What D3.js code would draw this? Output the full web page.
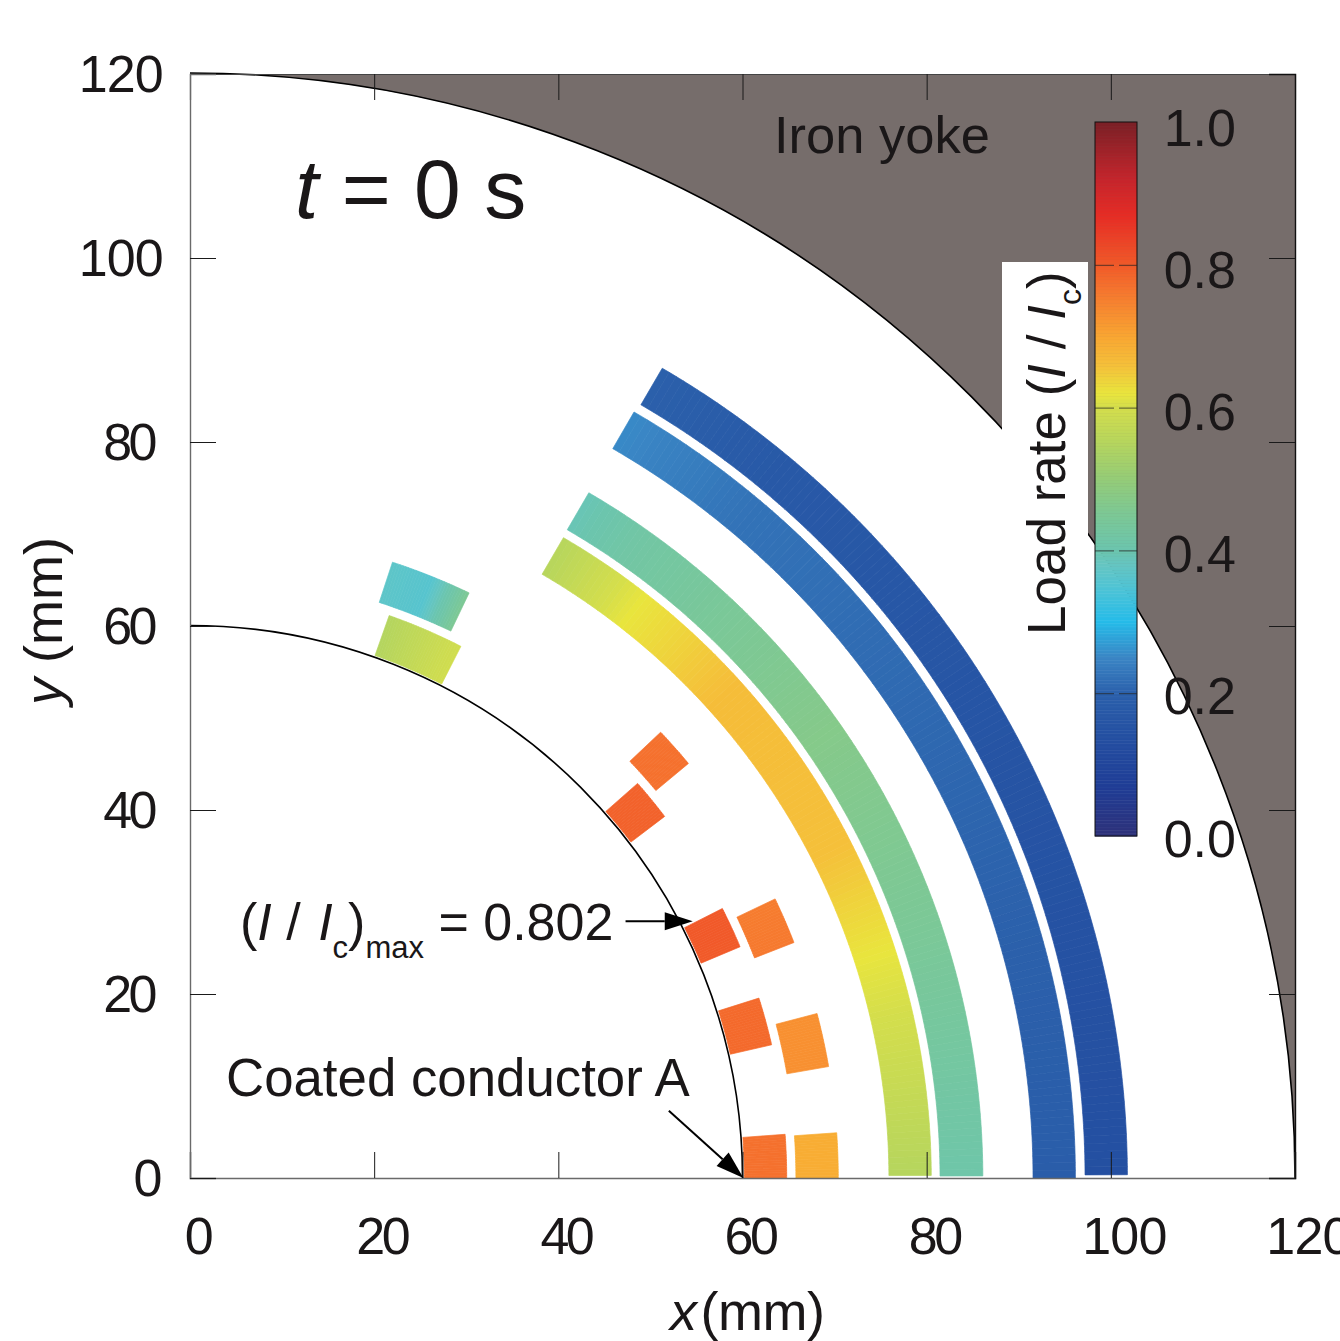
<!DOCTYPE html>
<html><head><meta charset="utf-8">
<script src="https://cdn.jsdelivr.net/npm/d3@7"></script>
<style>html,body{margin:0;padding:0;background:#fff;overflow:hidden}text{font-family:"Liberation Sans",Arial,sans-serif;fill:#1a1718}</style>
</head><body><svg id="c" width="1340" height="1341"></svg>
<script>
// axes
const axisTicks = [0,20,40,60,80,100,120];
const loadTicks = [0,0.2,0.4,0.6,0.8,1.0];
// colour map
const cmapValues = [0,.07,.15,.2,.25,.3,.35,.38,.4,.45,.5,.55,.6,.62,.66,.7,.76,.8,.87,.92,1];
const cmapColors = ["#2e3179","#1f3d96","#2552a3","#2b60ab","#3a85c4","#25bbe9","#50c4d4","#65c5c2","#6bc5ae","#7cc896","#94cc78","#b5d55e","#d4de4c","#e9e53d","#f5c03a","#f9a632","#f6792f","#f15a29","#e62c25","#c5252c","#7a2026"];
// coils: radii (mm), angular extent (deg from +x axis)
const coilInnerR = [75.9,81.45,91.55,97.2, 60.2,65.8, 60.2,65.8, 60.2,65.8, 60.2,65.8, 60.2,65.8];
const coilOuterR = [80.5,86.1,96.15,101.8, 64.8,70.4, 64.8,70.4, 64.8,70.4, 64.8,70.4, 64.8,70.4];
const coilStart  = [0.2,0.15,0,0.2, 0,0, 12.9,9.9, 22.8,21.3, 37.3,39.75, 63,64.5];
const coilEnd    = [59.75,59.8,59.9,59.75, 4.2,4.0, 17.55,14.7, 26.85,25.5, 41.4,43.45, 70.5,71.8];
// load rate read at angles along each coil
const coilLoadAngles = [
 [0,17,27,42,52,60],[0,20,35,45,55,60],[0,30,50,60],[0,30,50,60],
 [0,5],[0,5],[12,18],[9,15],[22,27],[21,26],[37,42],[39,44],[63,71],[64,66,68,72]];
const coilLoads = [
 [.55,.615,.66,.665,.62,.55],[.41,.45,.47,.45,.42,.39],[.19,.21,.225,.255],[.14,.16,.175,.2],
 [.77,.77],[.69,.69],[.78,.78],[.73,.73],[.80,.802],[.76,.755],[.79,.79],[.77,.77],[.595,.545],[.47,.41,.36,.37]];
// circles (mm)
const innerCircleR = 60, yokeR = 120;

const svg = d3.select("#c");
const x = d3.scaleLinear().domain([0,120]).range([190,1295]);
const y = d3.scaleLinear().domain([0,120]).range([1178,74]);
const rad = d => x(d)-x(0);
const cbY = d3.scaleLinear().domain([0,1]).range([836,122]);
const color = d3.scaleLinear().domain(cmapValues).range(cmapColors).clamp(true);
const cx = x(0), cy = y(0);

// yoke
const yp = d3.path();
yp.moveTo(x(0),y(120));
yp.arc(cx,cy,rad(yokeR),-Math.PI/2,0,false);
yp.lineTo(x(120),y(120));
yp.closePath();
svg.append("path").attr("d",yp.toString()).attr("fill","#766d6b");

// circle outlines
[innerCircleR,yokeR].forEach(r=>{
  const p=d3.path(); p.arc(cx,cy,rad(r),-Math.PI/2,0,false);
  svg.append("path").attr("d",p.toString()).attr("fill","none").attr("stroke","#000").attr("stroke-width",1.6);
});

// white label box
svg.append("rect").attr("x",1002).attr("y",262).attr("width",86).attr("height",380).attr("fill","#fff");

// coils
const arc = d3.arc();
const coilG = svg.append("g");
coilInnerR.forEach((ri,i)=>{
  const a0=coilStart[i],a1=coilEnd[i];
  const load=d3.scaleLinear().domain(coilLoadAngles[i]).range(coilLoads[i]);
  const step=(a1-a0)>20?0.5:0.25;
  const n=Math.ceil((a1-a0)/step);
  d3.range(n).forEach(k=>{
    const s=a0+(a1-a0)*k/n, e=a0+(a1-a0)*(k+1)/n;
    const c=color(load((s+e)/2));
    const toD=t=>(90-t)*Math.PI/180;
    coilG.append("path")
      .attr("transform",`translate(${cx},${cy})`)
      .attr("d",arc({innerRadius:rad(ri),outerRadius:rad(coilOuterR[i]),startAngle:toD(e),endAngle:toD(s)}))
      .attr("fill",c).attr("stroke",c).attr("stroke-width",0.7);
  });
});

// axes
const TL=26;
const gB=svg.append("g").attr("transform",`translate(0,${y(0)})`).call(d3.axisBottom(x).tickValues(axisTicks).tickSize(-TL).tickPadding(0).tickFormat(d3.format("d")));
const gT=svg.append("g").attr("transform",`translate(0,${y(120)})`).call(d3.axisTop(x).tickValues(axisTicks).tickSize(-TL).tickFormat(""));
const gL=svg.append("g").attr("transform",`translate(${x(0)},0)`).call(d3.axisLeft(y).tickValues(axisTicks).tickSize(-TL).tickFormat(d3.format("d")));
const gR=svg.append("g").attr("transform",`translate(${x(120)},0)`).call(d3.axisRight(y).tickValues(axisTicks).tickSize(-TL).tickFormat(""));
[gB,gT,gL,gR].forEach(g=>{
  g.selectAll("line").attr("stroke","#1a1a1a").attr("stroke-width",1);
  g.selectAll(".tick").filter(d=>d===120).select("line").remove();
});
gB.select(".domain").attr("stroke","#6a6a6a").attr("stroke-width",1.6);
gL.select(".domain").attr("stroke","#6a6a6a").attr("stroke-width",1.4);
gT.select(".domain").attr("stroke","#444").attr("stroke-width",1.2);
gR.select(".domain").attr("stroke","#111").attr("stroke-width",1.4);
gB.selectAll("text").attr("font-size",52).attr("font-family","Liberation Sans")
  .attr("letter-spacing",d=>d>=100?-0.8:-3.5)
  .attr("text-anchor","middle").attr("dy",0).attr("y",76)
  .attr("x",d=>d>=100?13:7).attr("fill","#1a1718");
gL.selectAll("text").attr("font-size",52).attr("font-family","Liberation Sans")
  .attr("letter-spacing",d=>d>=100?-0.8:-3.5)
  .attr("text-anchor","end").attr("dy","0.33em")
  .attr("x",d=>d>=100?-27:(d===0?-31:-36)).attr("fill","#1a1718");

// colour bar
const cb=svg.append("g");
const cbX0=1095,cbX1=1137;
d3.range(0,1,0.002).forEach(v=>{
  cb.append("rect").attr("x",cbX0).attr("width",cbX1-cbX0)
    .attr("y",cbY(v+0.002)).attr("height",cbY(v)-cbY(v+0.002)+0.5).attr("fill",color(v+0.001));
});
cb.append("rect").attr("x",cbX0).attr("y",cbY(1)).attr("width",cbX1-cbX0).attr("height",cbY(0)-cbY(1))
  .attr("fill","none").attr("stroke","#111").attr("stroke-width",1);
const gC=svg.append("g").attr("transform",`translate(${cbX1},0)`)
  .call(d3.axisRight(cbY).tickValues(loadTicks).tickSize(0).tickPadding(26).tickFormat(d3.format(".1f")));
gC.select(".domain").remove();
gC.selectAll("text").attr("font-size",52).attr("font-family","Liberation Sans")
  .attr("text-anchor","end").attr("x",99).attr("dy","0.33em").attr("y",d=>3+d*3).attr("fill","#1a1718");
gC.selectAll(".tick").filter(d=>d>0&&d<1).each(function(){
  const t=d3.select(this);
  t.append("line").attr("x1",-42).attr("x2",-23).attr("stroke","#222").attr("stroke-opacity",.75);
  t.append("line").attr("x1",-18).attr("x2",0).attr("stroke","#222").attr("stroke-opacity",.75);
});

// labels
const txt=(xx,yy,size,rot)=>{
  const t=svg.append("text").attr("font-size",size);
  if(rot) t.attr("transform",`translate(${xx},${yy}) rotate(-90)`);
  else t.attr("x",xx).attr("y",yy);
  return t;
};
let t=txt(295,218,84); t.append("tspan").attr("font-style","italic").text("t"); t.append("tspan").text(" = 0 s");
txt(774,153,52.5).text("Iron yoke");
t=txt(226,1096,52.8).text("Coated conductor A");

t=txt(240,940,52);
t.append("tspan").text("(");
t.append("tspan").attr("font-style","italic").text("I");
t.append("tspan").text(" / ");
t.append("tspan").attr("font-style","italic").attr("dx",3).text("I");
t.append("tspan").attr("font-size",31).attr("dy",18).text("c");
t.append("tspan").attr("dy",-18).text(")");
t.append("tspan").attr("font-size",31).attr("dy",18).text("max");
t.append("tspan").attr("dy",-18).text(" = 0.802");

t=txt(1065,635,53,true);
t.append("tspan").text("Load rate (");
t.append("tspan").attr("font-style","italic").text("I");
t.append("tspan").text(" / ");
t.append("tspan").attr("font-style","italic").text("I");
t.append("tspan").attr("font-size",32).attr("dy",16).text("c");
t.append("tspan").attr("dy",-16).text(")");

t=txt(62,705,54,true);
t.append("tspan").attr("font-style","italic").text("y");
t.append("tspan").text(" (mm)");

t=txt(670,1330,54).attr("letter-spacing",-0.5);
t.append("tspan").attr("font-style","italic").text("x");
t.append("tspan").attr("dx",4).text("(mm)");

// annotation arrows (mm)
const annotFrom=[[47.3,27.9],[52.0,7.3]];
const annotTo=[[54.6,27.9],[60.1,0]];
annotFrom.forEach((f,i)=>{
  const x0=x(f[0]),y0=y(f[1]),x1=x(annotTo[i][0]),y1=y(annotTo[i][1]);
  const L=Math.hypot(x1-x0,y1-y0),ux=(x1-x0)/L,uy=(y1-y0)/L,hl=28,hw=9;
  svg.append("line").attr("x1",x0).attr("y1",y0).attr("x2",x1-ux*hl).attr("y2",y1-uy*hl).attr("stroke","#000").attr("stroke-width",2);
  svg.append("path").attr("fill","#000")
    .attr("d",d3.line()([[x1,y1],[x1-ux*hl-uy*hw,y1-uy*hl+ux*hw],[x1-ux*hl+uy*hw,y1-uy*hl-ux*hw]])+"Z");
});
</script></body></html>
